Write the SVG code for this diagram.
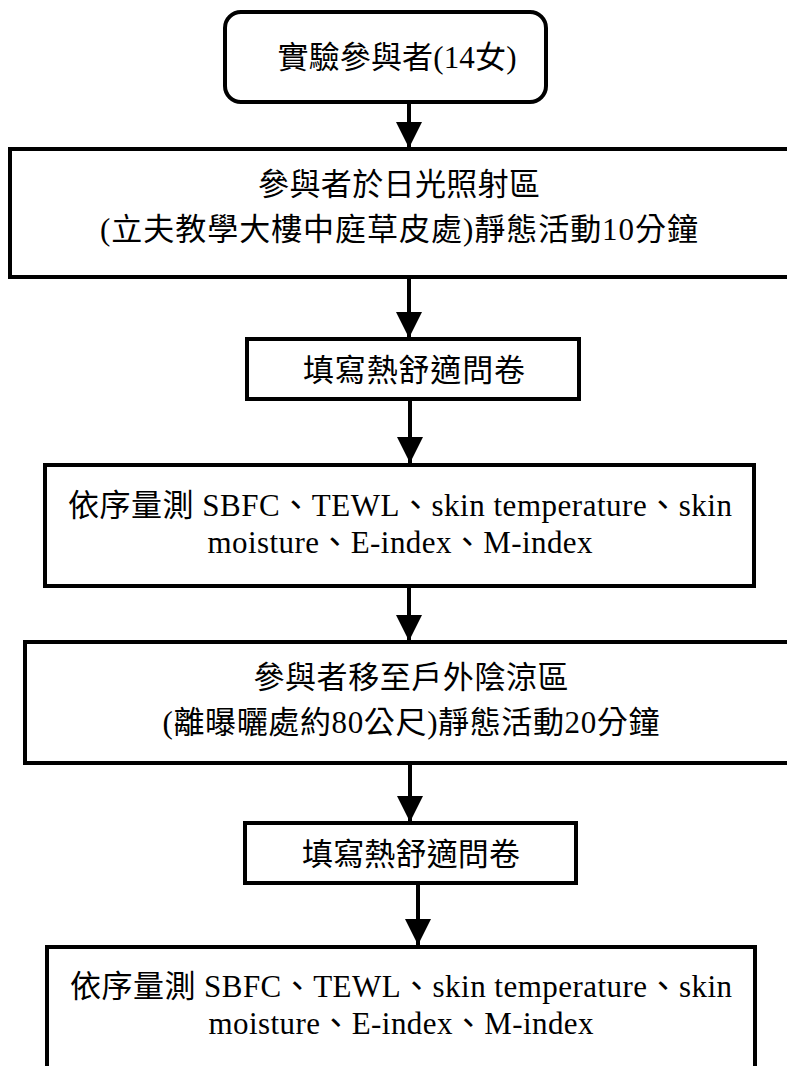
<svg xmlns="http://www.w3.org/2000/svg" width="787" height="1066" viewBox="0 0 787 1066">
<style>
.box{fill:#fff;stroke:#000;stroke-width:4}
.t{font-family:"Liberation Serif","Noto Sans CJK TC",serif;font-size:31px;fill:#000;text-anchor:middle}
.c{stroke:#000;stroke-width:4;fill:none}
</style>
<defs>
<marker id="ah" viewBox="0 0 26 26" markerWidth="26" markerHeight="26" refX="26" refY="13" orient="auto" markerUnits="userSpaceOnUse">
<path d="M0,0 L26,13 L0,26 z" fill="#000"/>
</marker>
</defs>
<rect width="787" height="1066" fill="#fff"/>
<g id="connectors">
<line class="c" x1="409" y1="102" x2="409" y2="148" marker-end="url(#ah)"/>
<line class="c" x1="409" y1="277" x2="409" y2="338" marker-end="url(#ah)"/>
<line class="c" x1="410" y1="399" x2="410" y2="463" marker-end="url(#ah)"/>
<line class="c" x1="409" y1="586" x2="409" y2="641" marker-end="url(#ah)"/>
<line class="c" x1="410" y1="763" x2="410" y2="822" marker-end="url(#ah)"/>
<line class="c" x1="418" y1="883" x2="418" y2="945" marker-end="url(#ah)"/>
</g>
<g id="n1">
<rect class="box" x="225" y="12" width="321" height="90" rx="16" ry="16"/>
<text class="t" x="397" y="68" textLength="239" lengthAdjust="spacing">實驗參與者(14女)</text>
</g>
<g id="n2">
<rect class="box" x="10" y="149" width="782" height="128"/>
<text class="t" x="399" y="195" textLength="282" lengthAdjust="spacing">參與者於日光照射區</text>
<text class="t" x="399" y="240" textLength="598" lengthAdjust="spacing">(立夫教學大樓中庭草皮處)靜態活動10分鐘</text>
</g>
<g id="n3">
<rect class="box" x="247" y="339" width="332" height="60"/>
<text class="t" x="414" y="381" textLength="222" lengthAdjust="spacing">填寫熱舒適問卷</text>
</g>
<g id="n4">
<rect class="box" x="45" y="465" width="709" height="121"/>
<text class="t" x="400" y="516" textLength="664" lengthAdjust="spacing">依序量測  SBFC、TEWL、skin temperature、skin</text>
<text class="t" x="400" y="553" textLength="385" lengthAdjust="spacing">moisture、E-index、M-index</text>
</g>
<g id="n5">
<rect class="box" x="25" y="642" width="767" height="121"/>
<text class="t" x="411" y="688" textLength="315" lengthAdjust="spacing">參與者移至戶外陰涼區</text>
<text class="t" x="411" y="733" textLength="497" lengthAdjust="spacing">(離曝曬處約80公尺)靜態活動20分鐘</text>
</g>
<g id="n6">
<rect class="box" x="245" y="823" width="331" height="60"/>
<text class="t" x="411" y="865" textLength="218" lengthAdjust="spacing">填寫熱舒適問卷</text>
</g>
<g id="n7">
<rect class="box" x="47" y="947" width="708" height="130"/>
<text class="t" x="401" y="997" textLength="662" lengthAdjust="spacing">依序量測  SBFC、TEWL、skin temperature、skin</text>
<text class="t" x="401" y="1034" textLength="385" lengthAdjust="spacing">moisture、E-index、M-index</text>
</g>
</svg>
